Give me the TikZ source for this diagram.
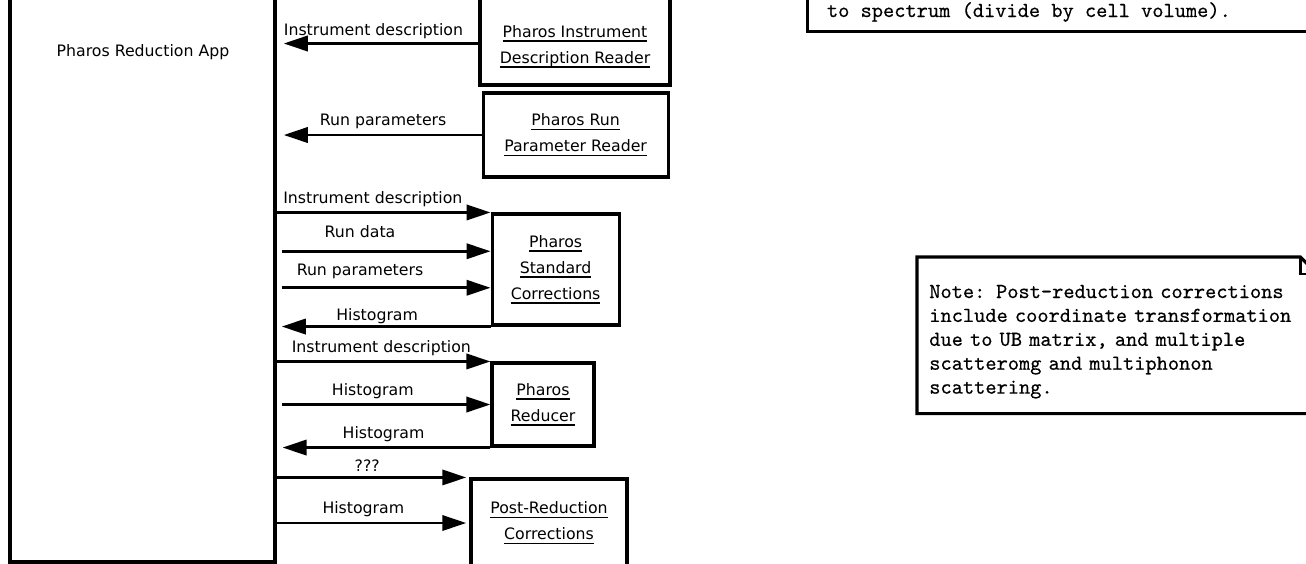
\documentclass[tikz,border=0pt]{standalone}
\usepackage{fontspec}
\setmainfont{DejaVu Sans}
\newfontfamily\notefont{lmmono10-regular.otf}[FakeBold=0.4]
\usepackage{tikz}
\usetikzlibrary{arrows.meta,positioning,calc}
\newcommand{\objline}[1]{\setbox0\hbox{#1}\rlap{\rule[-0.11cm]{\wd0}{0.9pt}}\box0}
\tikzset{obj/.style={draw=black,line width=2.2pt,align=center,inner sep=0pt,font=\fontsize{11.2}{18.5}\selectfont},msg/.style={-{Triangle[length=6mm,width=3.8mm]},line width=2.1pt},lbl/.style={font=\fontsize{11.2}{13}\selectfont,inner sep=0pt,text depth=0pt,above=5.5pt},notetext/.style={font=\notefont\fontsize{15.2}{17}\selectfont,align=left}}

\begin{document}
\begin{tikzpicture}[line join=miter]
\useasboundingbox (0,0) rectangle (32.65,-14.075);
\clip (0,0) rectangle (32.65,-14.075);
% app and the objects it talks to
\node[obj,minimum width=6.625cm,minimum height=15.05cm] (app) at (3.5625,-6.525) {};
\node[font=\fontsize{11.2}{13}\selectfont] (appname) at (3.575,-1.3) {Pharos Reduction App};
\node[obj,minimum width=4.75cm,minimum height=2.175cm] (idr) at (14.375,-1.0375) {\rule{0pt}{0.55cm}\objline{Pharos Instrument}\\\objline{Description Reader}};
\node[obj,minimum width=4.625cm,minimum height=2.1cm] (prr) at (14.39,-3.375) {\objline{Pharos Run}\\\objline{Parameter Reader}};
\node[obj,minimum width=3.175cm,minimum height=2.775cm] (sc) at (13.89,-6.7375) {\objline{Pharos}\\\objline{Standard}\\\objline{Corrections}};
\node[obj,minimum width=2.55cm,minimum height=2.075cm] (red) at (13.575,-10.1125) {\objline{Pharos}\\\objline{Reducer}};
\node[obj,minimum width=3.9cm,minimum height=2.2cm] (prc) at (13.725,-13.075) {\objline{Post-Reduction}\\\objline{Corrections}};
\coordinate (idr1) at ([yshift=-.05cm]idr.west);
\coordinate (sc1) at ($(sc.north west)!.34!(sc.south west)$);
\coordinate (sc2) at ($(sc.north west)!.66!(sc.south west)$);
% messages
\draw[msg,shorten >=.18cm] (idr1) -- node[lbl,pos=.52,above=5pt]{Instrument description} (app.east |- idr1);
\draw[msg,shorten >=.18cm] (prr.west) -- node[lbl,pos=.48]{Run parameters} (app.east |- prr.west);
\draw[msg] (app.east |- sc.north west) -- node[lbl,pos=.45]{Instrument description} (sc.north west);
\draw[msg,shorten <=.13cm] (app.east |- sc1) -- node[lbl,pos=.39,above=9pt]{Run data} (sc1);
\draw[msg,shorten <=.13cm] (app.east |- sc2) -- node[lbl,pos=.39,above=7.5pt]{Run parameters} (sc2);
\draw[msg,shorten >=.13cm] (sc.south west) -- node[lbl,pos=.53,above=3.5pt]{Histogram} (app.east |- sc.south west);
\draw[msg] (app.east |- red.north west) -- node[lbl,pos=.49]{Instrument description} (red.north west);
\draw[msg,shorten <=.13cm] (app.east |- red.west) -- node[lbl,pos=.45]{Histogram} (red.west);
\draw[msg,shorten >=.15cm] (red.south west) -- node[lbl,pos=.5]{Histogram} (app.east |- red.south west);
\draw[msg,shorten >=.08cm] (app.east |- prc.north west) -- node[lbl,pos=.47,above=3.5pt]{???} (prc.north west);
\draw[msg,shorten >=.08cm] (app.east |- prc.west) -- node[lbl,pos=.45]{Histogram} (prc.west);
% notes
\node[draw,line width=2.2pt,minimum width=13cm,minimum height=2.5cm,anchor=south west] (n1) at (20.15,-0.825) {};
\node[notetext,anchor=base west] (n1t) at (20.55,-0.425) {to spectrum (divide by cell volume).};
\node[notetext,minimum width=10cm,minimum height=3.9cm,text width=9.4cm,inner xsep=.3cm,anchor=north west] (n2) at (22.925,-6.425) {\rule{0pt}{0.65cm}Note: Post-reduction corrections\\include coordinate transformation\\due to UB matrix, and multiple\\scatteromg and multiphonon\\scattering.};
\draw[line width=2.2pt] (n2.north west) -- ([xshift=-.43cm]n2.north east) -- ([yshift=-.43cm]n2.north east) -- (n2.south east) -- (n2.south west) -- cycle;
\draw[line width=1.6pt] ([xshift=-.43cm]n2.north east) |- ([yshift=-.43cm]n2.north east);
\end{tikzpicture}
\end{document}
